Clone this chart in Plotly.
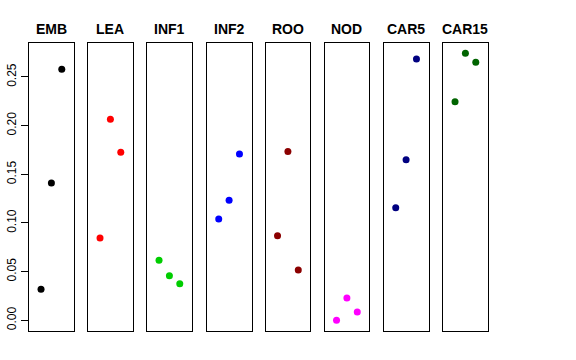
import plotly.graph_objects as go

panels = ["EMB", "LEA", "INF1", "INF2", "ROO", "NOD", "CAR5", "CAR15"]
colors = ["#000000", "#FF0000", "#00CD00", "#0000FF", "#8B0000", "#FF00FF", "#000080", "#006400"]
positions = [1, 2, 3]
emb = [0.032, 0.141, 0.258]
lea = [0.0846, 0.2065, 0.1726]
inf1 = [0.0616, 0.0458, 0.0376]
inf2 = [0.1041, 0.1233, 0.1709]
roo = [0.0869, 0.1733, 0.0517]
nod = [0.000, 0.0229, 0.0085]
car5 = [0.1157, 0.1650, 0.2685]
car15 = [0.2246, 0.2743, 0.2651]
values = [emb, lea, inf1, inf2, roo, nod, car5, car15]
yticks = [0.00, 0.05, 0.10, 0.15, 0.20, 0.25]

W, H = 576, 360
lefts = [29, 88, 147, 206.7, 265.5, 324.5, 383.7, 443]
pw = 44.8
top_px, bot_px = 43, 331

fig = go.Figure()
layout = dict(
    width=W, height=H, margin=dict(l=0, r=0, t=0, b=0, autoexpand=False),
    paper_bgcolor="white", plot_bgcolor="white", showlegend=False,
    font=dict(family="Liberation Sans, Arial, sans-serif", color="black"),
)
annotations = []
for i, (name, col, vals) in enumerate(zip(panels, colors, values)):
    k = "" if i == 0 else str(i + 1)
    fig.add_trace(go.Scatter(
        x=positions, y=vals, mode="markers",
        marker=dict(color=col, size=7),
        xaxis="x" + k, yaxis="y" + k, hoverinfo="y",
    ))
    x0 = lefts[i] / W
    x1 = (lefts[i] + pw) / W
    layout["xaxis" + k] = dict(
        domain=[x0, x1], range=[-0.16, 4.16], showgrid=False, zeroline=False,
        showticklabels=False, ticks="", showline=True, mirror=True,
        linecolor="black", linewidth=1, anchor="y" + k, fixedrange=True,
        automargin=False,
    )
    ya = dict(
        domain=[1 - bot_px / H, 1 - top_px / H], range=[-0.011, 0.2849],
        showgrid=False, zeroline=False, showline=True, mirror=True,
        linecolor="black", linewidth=1, anchor="x" + k, fixedrange=True,
        automargin=False,
    )
    if i == 0:
        ya.update(tickvals=yticks, ticktext=[f"{v:.2f}" for v in yticks],
                  ticks="outside", ticklen=7, tickcolor="black", tickwidth=1,
                  tickangle=-90, tickfont=dict(size=12, color="black"))
    else:
        ya.update(showticklabels=False, ticks="")
    layout["yaxis" + k] = ya
    annotations.append(dict(
        text="<b>" + name + "</b>", x=(lefts[i] + pw / 2) / W, y=1 - 29 / H,
        xref="paper", yref="paper", showarrow=False, xanchor="center", yanchor="middle",
        font=dict(size=14, color="black"),
    ))
layout["annotations"] = annotations
fig.update_layout(**layout)
fig.write_html("out.html", config={"displayModeBar": False},
               post_script="document.body.style.margin='0';document.body.style.padding='0';")
